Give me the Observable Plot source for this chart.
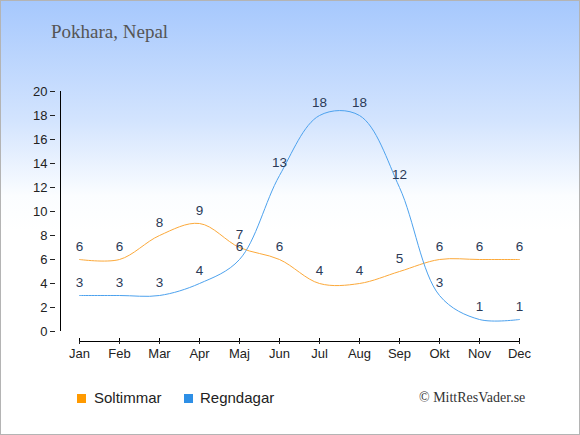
<!DOCTYPE html>
<html>
<head>
<meta charset="utf-8">
<script src="https://cdn.jsdelivr.net/npm/d3@7"></script>
<script src="https://cdn.jsdelivr.net/npm/@observablehq/plot@0.6"></script>
<style>
  html, body { margin: 0; padding: 0; background: #fff; }
  #wrap {
    position: relative; width: 578px; height: 433px;
    border: 1px solid #b4b4b4;
    background: linear-gradient(to bottom, #a6c8fd 0px, #d3e4fe 120px, #fbfdff 195px, #ffffff 230px);
    overflow: hidden;
  }
  #title {
    position: absolute; left: 50px; top: 21px; line-height: 1;
    font-family: "Liberation Serif", serif; font-size: 19px; color: #555;
  }
  #chart { position: absolute; left: 0; top: 59px; }
  .leg { position: absolute; top: 389px; line-height: 1; font-family: "Liberation Sans", Arial, sans-serif; font-size: 15px; color: #222; }
  .sw { position: absolute; top: 393px; width: 9px; height: 9px; }
  #copy { position: absolute; left: 418px; top: 390px; line-height: 1; font-family: "Liberation Serif", serif; font-size: 14px; color: #333; }
</style>
</head>
<body>
<div id="wrap">
  <div id="title"></div>
  <div id="chart"></div>
  <div class="sw" id="sw1"></div><div class="leg" id="leg1"></div>
  <div class="sw" id="sw2"></div><div class="leg" id="leg2"></div>
  <div id="copy"></div>
</div>
<script>
const titleText = "Pokhara, Nepal";
const months = ["Jan","Feb","Mar","Apr","Maj","Jun","Jul","Aug","Sep","Okt","Nov","Dec"];
const sunHours = [6,6,8,9,7,6,4,4,5,6,6,6];
const rainDays = [3,3,3,4,6,13,18,18,12,3,1,1];
const yTicks = [0,2,4,6,8,10,12,14,16,18,20];
const seriesNames = ["Soltimmar","Regndagar"];
const lineColors = ["#fca93a","#4da2ee"];
const swatchColors = ["#ff9a00","#2e8fe6"];
const copyright = "© MittResVader.se";

const sunData = months.map((m,i)=>({month:m, value:sunHours[i]}));
const rainData = months.map((m,i)=>({month:m, value:rainDays[i]}));

const labelColor = "#2b3a57";

const plot = Plot.plot({
  width: 578,
  height: 310,
  marginLeft: 54,
  marginRight: 55,
  marginTop: 31,
  marginBottom: 29,
  insetLeft: 19,
  insetBottom: 10,
  style: {background: "transparent", fontFamily: "'Liberation Sans', Arial, sans-serif", fontSize: "13px", color: "#222"},
  x: {type: "point", domain: months, padding: 0},
  y: {domain: [0, 20]},
  marks: [
    Plot.ruleX([months[0]], {y1: 0, y2: 20, dx: -19, stroke: "#000"}),
    Plot.ruleY([0], {x1: () => months[0], x2: () => months[11], dy: 10, stroke: "#000"}),
    Plot.axisY({ticks: yTicks, tickSize: 5, tickPadding: 3, label: null, fontSize: 13, color: "#222"}),
    Plot.axisX({tickSize: 3, tickPadding: 4, label: null, fontSize: 13, color: "#222"}),
    Plot.ruleX(months, {x: d => d, y1: 0, y2: 0, dy: 10, insetTop: -3, insetBottom: 0, stroke: "#000"}),
    Plot.line(sunData, {x: "month", y: "value", stroke: lineColors[0], strokeWidth: 1, curve: "catmull-rom"}),
    Plot.line(rainData, {x: "month", y: "value", stroke: lineColors[1], strokeWidth: 1, curve: "catmull-rom"}),
    Plot.text(sunData, {x: "month", y: "value", text: "value", lineAnchor: "bottom", dy: -9, fill: labelColor, fontSize: 13.5}),
    Plot.text(rainData, {x: "month", y: "value", text: "value", lineAnchor: "bottom", dy: -9, fill: labelColor, fontSize: 13.5})
  ]
});
document.getElementById("chart").appendChild(plot);

document.getElementById("title").textContent = titleText;
const sw1 = document.getElementById("sw1"), sw2 = document.getElementById("sw2");
sw1.style.left = "76px"; sw1.style.background = swatchColors[0];
sw2.style.left = "183px"; sw2.style.background = swatchColors[1];
const l1 = document.getElementById("leg1"), l2 = document.getElementById("leg2");
l1.style.left = "93px"; l1.textContent = seriesNames[0];
l2.style.left = "199px"; l2.textContent = seriesNames[1];
document.getElementById("copy").textContent = copyright;
</script>
</body>
</html>
